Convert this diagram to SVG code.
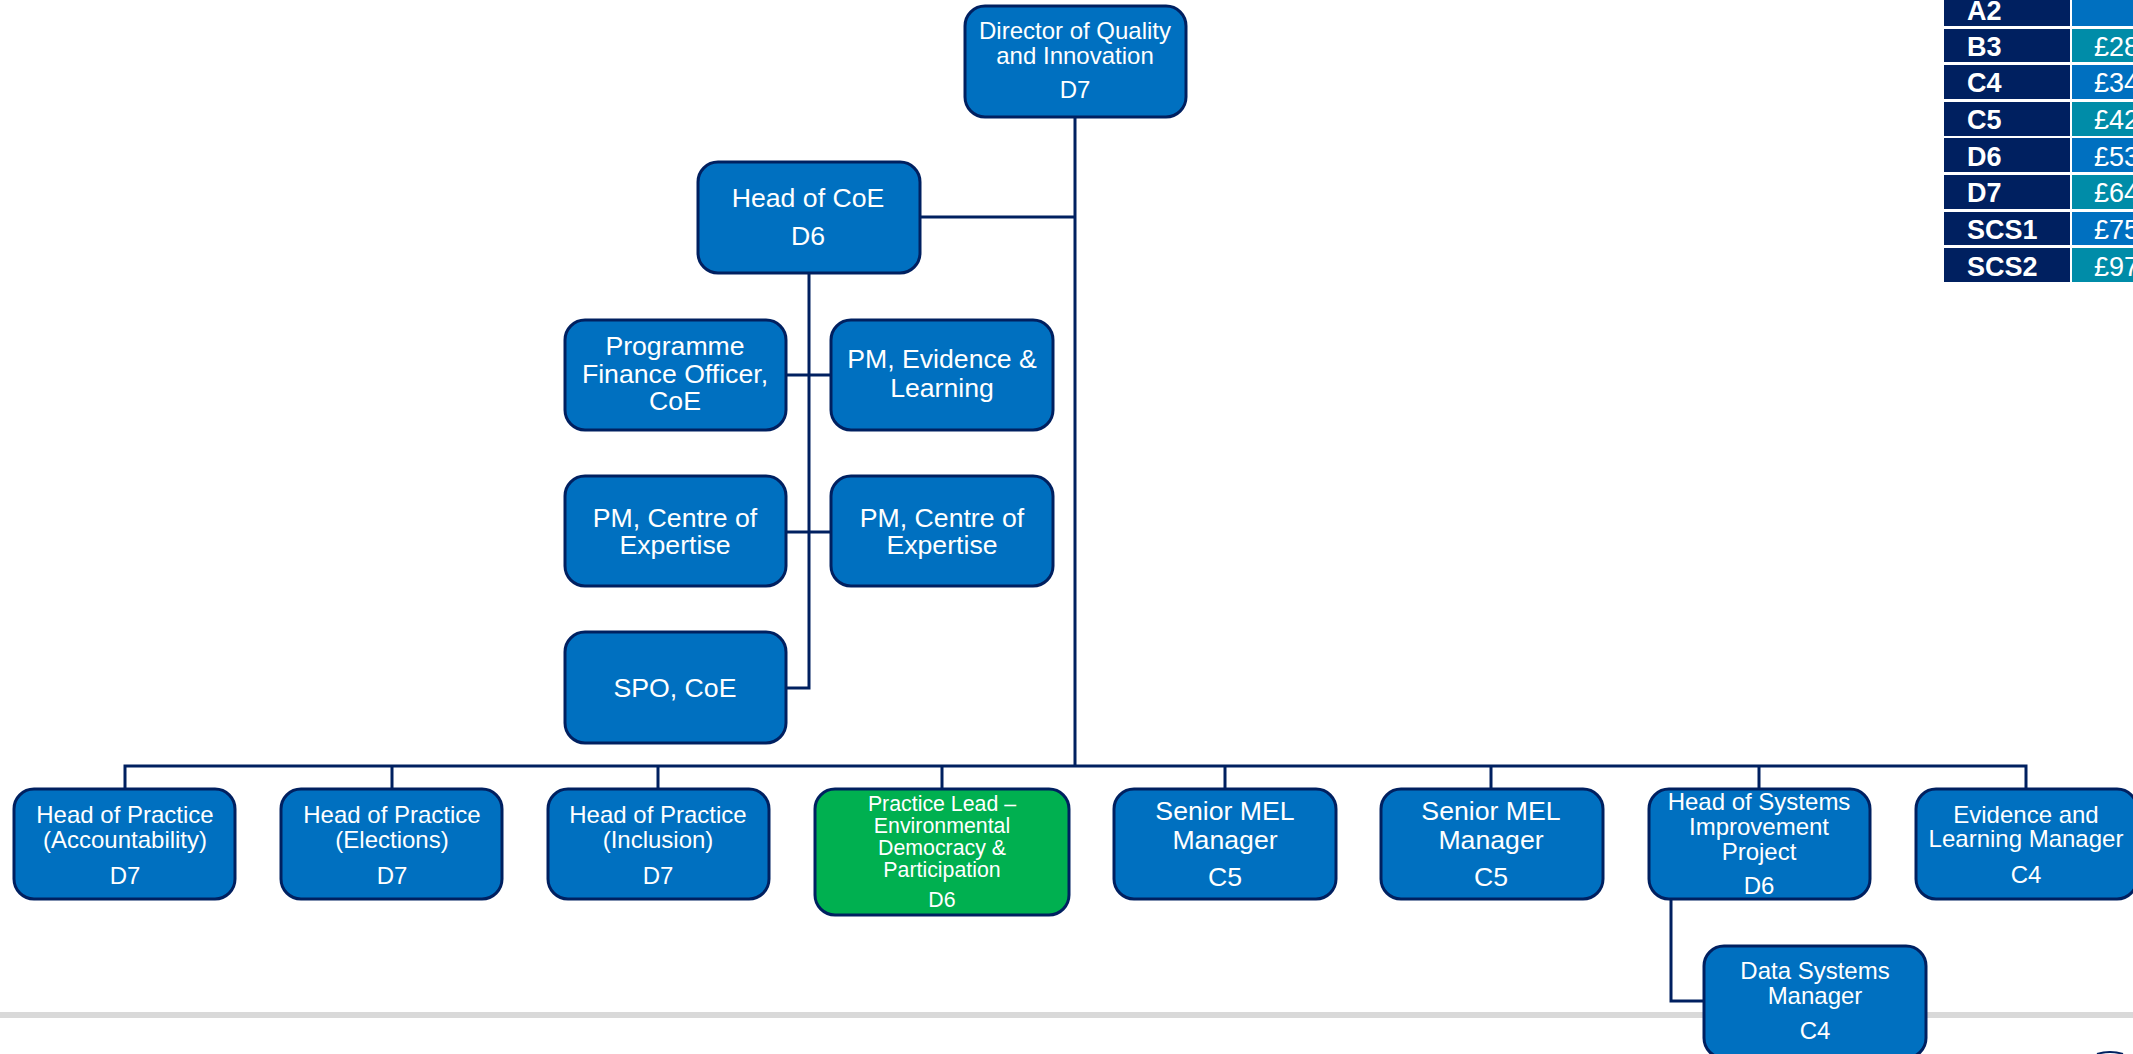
<svg xmlns="http://www.w3.org/2000/svg" width="2133" height="1054" viewBox="0 0 2133 1054">
<style>
text{font-family:"Liberation Sans",Arial,sans-serif;fill:#fff;text-anchor:middle}
.n rect{fill:#0070C0;stroke:#002060;stroke-width:3}
.g rect{fill:#00B050;stroke:#002060;stroke-width:3}
.s24{font-size:24px}.s26{font-size:26.67px}.s21{font-size:21.33px}
#connectors path{fill:none;stroke:#002060;stroke-width:3}
.lab{fill:#002060}.v1{fill:#0070C0}.v2{fill:#008CA8}
.tl{font-size:27px;font-weight:bold;text-anchor:start}.tv{font-size:27px;text-anchor:start}
</style>
<rect width="2133" height="1054" fill="#fff"/>
<rect x="0" y="1012" width="2133" height="6" fill="#D9D9D9"/>
<path d="M2097 1054Q2110 1050 2123 1054" fill="none" stroke="#002060" stroke-width="2"/>
<g id="grade-table">
<rect class="lab" x="1944" y="-5" width="126" height="31"/><rect class="v1" x="2072" y="-5" width="61" height="31"/>
<rect class="lab" x="1944" y="29" width="126" height="33"/><rect class="v2" x="2072" y="29" width="61" height="33"/>
<rect class="lab" x="1944" y="65" width="126" height="34"/><rect class="v1" x="2072" y="65" width="61" height="34"/>
<rect class="lab" x="1944" y="102" width="126" height="34"/><rect class="v2" x="2072" y="102" width="61" height="34"/>
<rect class="lab" x="1944" y="138" width="126" height="34"/><rect class="v1" x="2072" y="138" width="61" height="34"/>
<rect class="lab" x="1944" y="175" width="126" height="34"/><rect class="v2" x="2072" y="175" width="61" height="34"/>
<rect class="lab" x="1944" y="212" width="126" height="33"/><rect class="v1" x="2072" y="212" width="61" height="33"/>
<rect class="lab" x="1944" y="248" width="126" height="34"/><rect class="v2" x="2072" y="248" width="61" height="34"/>
<text class="tl" x="1967" y="20">A2</text>
<text class="tl" x="1967" y="56">B3</text><text class="tv" x="2094" y="56">£28</text>
<text class="tl" x="1967" y="92">C4</text><text class="tv" x="2094" y="92">£34</text>
<text class="tl" x="1967" y="129">C5</text><text class="tv" x="2094" y="129">£42</text>
<text class="tl" x="1967" y="166">D6</text><text class="tv" x="2094" y="166">£53</text>
<text class="tl" x="1967" y="202">D7</text><text class="tv" x="2094" y="202">£64</text>
<text class="tl" x="1967" y="239">SCS1</text><text class="tv" x="2094" y="239">£75</text>
<text class="tl" x="1967" y="276">SCS2</text><text class="tv" x="2094" y="276">£97</text>
</g>
<g id="connectors">
<path d="M1075 117V766"/>
<path d="M920 217H1075"/>
<path d="M809 273V688H786"/>
<path d="M786 375H831"/>
<path d="M786 532H831"/>
<path d="M125 789V766H2026V789"/>
<path d="M392 766V789M658 766V789M942 766V789M1225 766V789M1491 766V789M1759 766V789"/>
<path d="M1671 900V1001H1703"/>
</g>
<g id="director" class="n"><rect x="965" y="6" width="221" height="111" rx="20"/><text class="s24"><tspan x="1075" y="39">Director of Quality</tspan><tspan x="1075" y="64">and Innovation</tspan><tspan x="1075" y="98">D7</tspan></text></g>
<g id="head-coe" class="n"><rect x="698" y="162" width="222" height="111" rx="20"/><text class="s26"><tspan x="808" y="207">Head of CoE</tspan><tspan x="808" y="245">D6</tspan></text></g>
<g id="programme-finance" class="n"><rect x="565" y="320" width="221" height="110" rx="20"/><text class="s26"><tspan x="675" y="355">Programme</tspan><tspan x="675" y="383">Finance Officer,</tspan><tspan x="675" y="410">CoE</tspan></text></g>
<g id="pm-evidence" class="n"><rect x="831" y="320" width="222" height="110" rx="20"/><text class="s26"><tspan x="942" y="368">PM, Evidence &amp;</tspan><tspan x="942" y="397">Learning</tspan></text></g>
<g id="pm-centre-1" class="n"><rect x="565" y="476" width="221" height="110" rx="20"/><text class="s26"><tspan x="675" y="527">PM, Centre of</tspan><tspan x="675" y="554">Expertise</tspan></text></g>
<g id="pm-centre-2" class="n"><rect x="831" y="476" width="222" height="110" rx="20"/><text class="s26"><tspan x="942" y="527">PM, Centre of</tspan><tspan x="942" y="554">Expertise</tspan></text></g>
<g id="spo" class="n"><rect x="565" y="632" width="221" height="111" rx="20"/><text class="s26" x="675" y="697">SPO, CoE</text></g>
<g id="hop-accountability" class="n"><rect x="14" y="789" width="221" height="110" rx="20"/><text class="s24"><tspan x="125" y="823">Head of Practice</tspan><tspan x="125" y="848">(Accountability)</tspan><tspan x="125" y="884">D7</tspan></text></g>
<g id="hop-elections" class="n"><rect x="281" y="789" width="221" height="110" rx="20"/><text class="s24"><tspan x="392" y="823">Head of Practice</tspan><tspan x="392" y="848">(Elections)</tspan><tspan x="392" y="884">D7</tspan></text></g>
<g id="hop-inclusion" class="n"><rect x="548" y="789" width="221" height="110" rx="20"/><text class="s24"><tspan x="658" y="823">Head of Practice</tspan><tspan x="658" y="848">(Inclusion)</tspan><tspan x="658" y="884">D7</tspan></text></g>
<g id="practice-lead" class="g"><rect x="815" y="789" width="254" height="126" rx="20"/><text class="s21"><tspan x="942" y="811">Practice Lead –</tspan><tspan x="942" y="833">Environmental</tspan><tspan x="942" y="855">Democracy &amp;</tspan><tspan x="942" y="877">Participation</tspan><tspan x="942" y="907">D6</tspan></text></g>
<g id="mel-1" class="n"><rect x="1114" y="789" width="222" height="110" rx="20"/><text class="s26"><tspan x="1225" y="820">Senior MEL</tspan><tspan x="1225" y="849">Manager</tspan><tspan x="1225" y="886">C5</tspan></text></g>
<g id="mel-2" class="n"><rect x="1381" y="789" width="222" height="110" rx="20"/><text class="s26"><tspan x="1491" y="820">Senior MEL</tspan><tspan x="1491" y="849">Manager</tspan><tspan x="1491" y="886">C5</tspan></text></g>
<g id="head-systems" class="n"><rect x="1649" y="789" width="221" height="110" rx="20"/><text class="s24"><tspan x="1759" y="810">Head of Systems</tspan><tspan x="1759" y="835">Improvement</tspan><tspan x="1759" y="860">Project</tspan><tspan x="1759" y="894">D6</tspan></text></g>
<g id="evidence-learning" class="n"><rect x="1916" y="789" width="221" height="110" rx="20"/><text class="s24"><tspan x="2026" y="823">Evidence and</tspan><tspan x="2026" y="847">Learning Manager</tspan><tspan x="2026" y="883">C4</tspan></text></g>
<g id="data-systems" class="n"><rect x="1704" y="946" width="222" height="112" rx="20"/><text class="s24"><tspan x="1815" y="979">Data Systems</tspan><tspan x="1815" y="1004">Manager</tspan><tspan x="1815" y="1039">C4</tspan></text></g>
</svg>
